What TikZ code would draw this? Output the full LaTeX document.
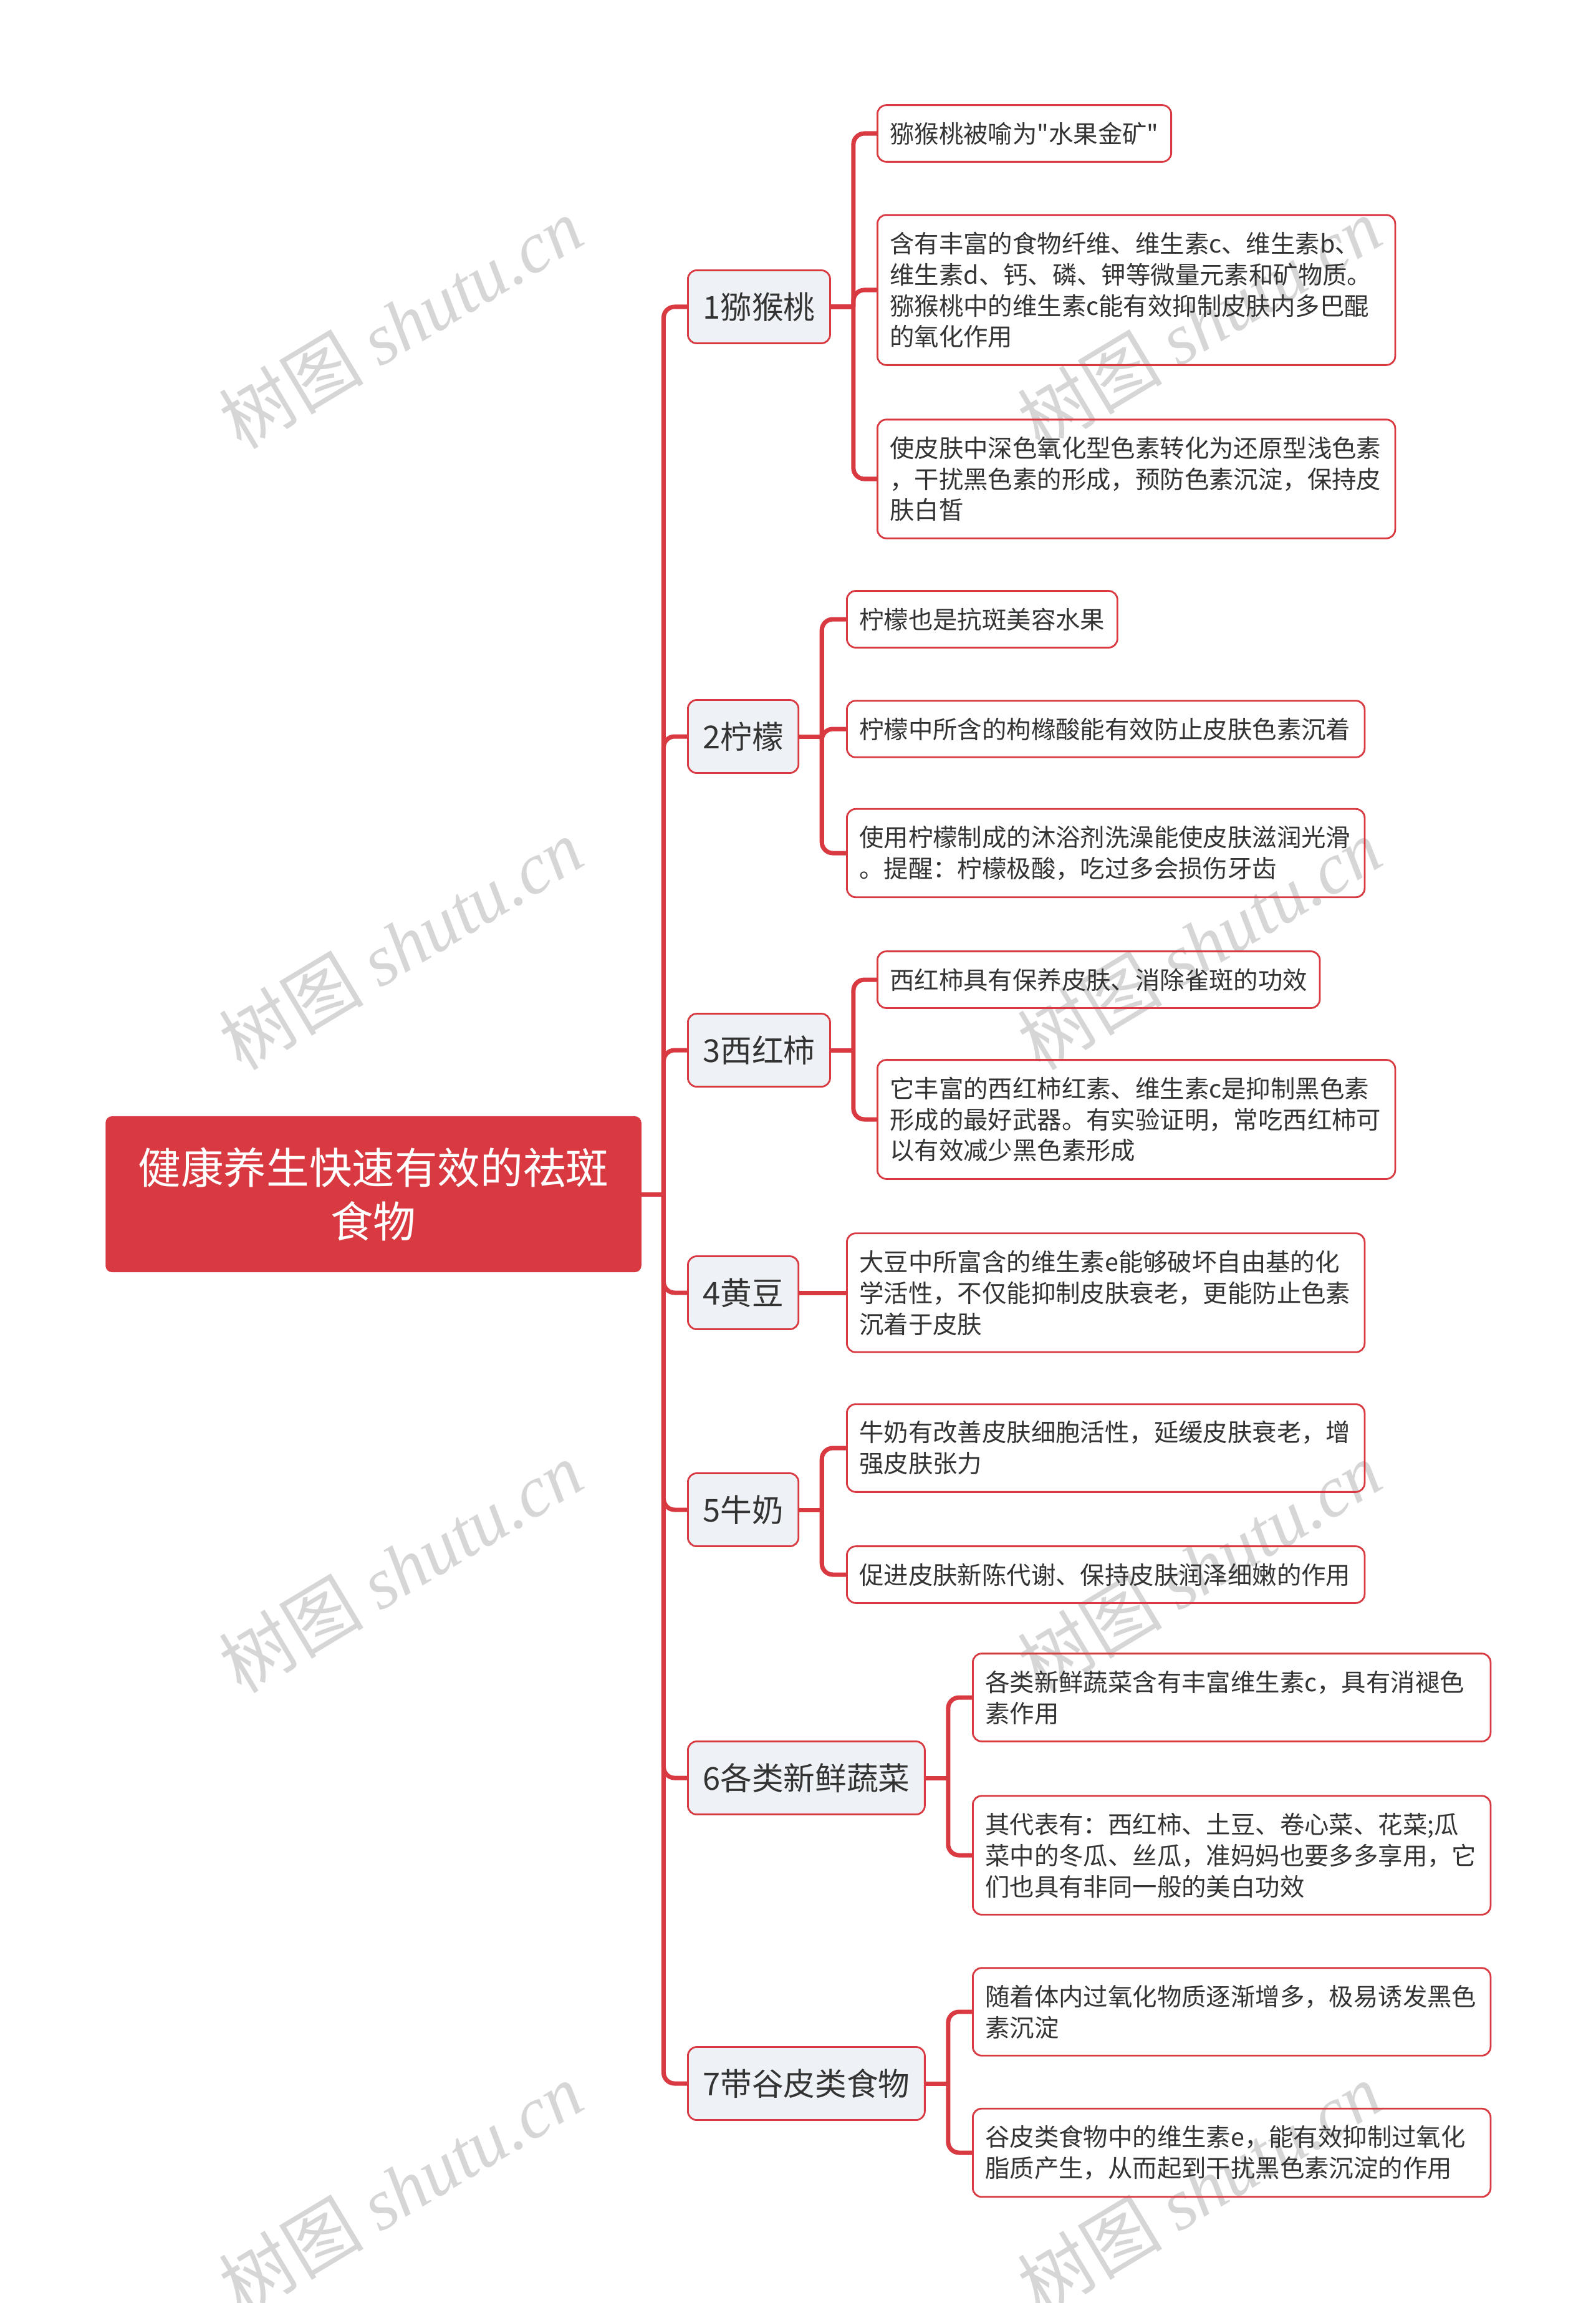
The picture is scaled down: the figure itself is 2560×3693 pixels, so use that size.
\documentclass[tikz,border=0pt]{standalone}
\usepackage{fontspec}
\setmainfont{Noto Sans CJK SC}[Ligatures=TeXOff]
\newfontfamily\wmlatin{Liberation Serif}
\usetikzlibrary{positioning}
\definecolor{mapred}{HTML}{D93A41}
\definecolor{topicfill}{HTML}{EEF1F5}
\definecolor{inkdark}{HTML}{333333}
\tikzset{
  rootbox/.style={rectangle, rounded corners=3pt, fill=mapred, text=white, minimum width=8.59cm, minimum height=2.5cm, align=center, font=\fontsize{19.5}{24.7}\selectfont},
  topic/.style={rectangle, rounded corners=4pt, draw=mapred, line width=0.8pt, fill=topicfill, text=inkdark, minimum height=1.17cm, inner xsep=0.24cm, anchor=west, font=\fontsize{14.4}{17}\selectfont},
  detail/.style={rectangle, rounded corners=4pt, draw=mapred, line width=0.8pt, text=inkdark, inner xsep=0.2cm, inner ysep=0.27cm, minimum height=0.89cm, anchor=west, align=left, font=\fontsize{11.2}{14.2}\selectfont},
  wide/.style={detail, text width=7.9cm},
  link/.style={draw=mapred, line width=2pt, rounded corners=5pt},
  wmark/.style={text=black!16, rotate=31, font=\fontsize{33}{33}\selectfont},
}

\begin{document}
\begin{tikzpicture}[x=0.01cm, y=-0.01cm]
\useasboundingbox (0,0) rectangle (2560,3693);

% watermark
\foreach \x in {643,1924}{
  \foreach \y in {518,1514,2513,3509}{
    \node[wmark] (wm-\x-\y) at (\x,\y) {树图 {\wmlatin\itshape shutu.cn}};
  }
}

% root
\node[rootbox] (root) at (599,1915) {健康养生快速有效的祛斑\\食物};

% topics
\node[topic] (t1) at (1102,492)  {1猕猴桃};
\node[topic] (t2) at (1102,1181) {2柠檬};
\node[topic] (t3) at (1102,1684) {3西红柿};
\node[topic] (t4) at (1102,2073) {4黄豆};
\node[topic] (t5) at (1102,2421) {5牛奶};
\node[topic] (t6) at (1102,2851) {6各类新鲜蔬菜};
\node[topic] (t7) at (1102,3341) {7带谷皮类食物};

% details
\node[detail] (d1a) at (1406,214) {猕猴桃被喻为"水果金矿"};
\node[wide]   (d1b) at (1406,465) {含有丰富的食物纤维、维生素c、维生素b、\\维生素d、钙、磷、钾等微量元素和矿物质。\\猕猴桃中的维生素c能有效抑制皮肤内多巴醌\\的氧化作用};
\node[wide]   (d1c) at (1406,768) {使皮肤中深色氧化型色素转化为还原型浅色素\\，干扰黑色素的形成，预防色素沉淀，保持皮\\肤白皙};
\node[detail] (d2a) at (1357,993) {柠檬也是抗斑美容水果};
\node[wide]   (d2b) at (1357,1169) {柠檬中所含的枸橼酸能有效防止皮肤色素沉着};
\node[wide]   (d2c) at (1357,1368) {使用柠檬制成的沐浴剂洗澡能使皮肤滋润光滑\\。提醒：柠檬极酸，吃过多会损伤牙齿};
\node[detail] (d3a) at (1406,1571) {西红柿具有保养皮肤、消除雀斑的功效};
\node[wide]   (d3b) at (1406,1795) {它丰富的西红柿红素、维生素c是抑制黑色素\\形成的最好武器。有实验证明，常吃西红柿可\\以有效减少黑色素形成};
\node[wide]   (d4a) at (1357,2073) {大豆中所富含的维生素e能够破坏自由基的化\\学活性，不仅能抑制皮肤衰老，更能防止色素\\沉着于皮肤};
\node[wide]   (d5a) at (1357,2322) {牛奶有改善皮肤细胞活性，延缓皮肤衰老，增\\强皮肤张力};
\node[wide]   (d5b) at (1357,2525) {促进皮肤新陈代谢、保持皮肤润泽细嫩的作用};
\node[wide]   (d6a) at (1559,2722) {各类新鲜蔬菜含有丰富维生素c，具有消褪色\\素作用};
\node[wide]   (d6b) at (1559,2975) {其代表有：西红柿、土豆、卷心菜、花菜;瓜\\菜中的冬瓜、丝瓜，准妈妈也要多多享用，它\\们也具有非同一般的美白功效};
\node[wide]   (d7a) at (1559,3226) {随着体内过氧化物质逐渐增多，极易诱发黑色\\素沉淀};
\node[wide]   (d7b) at (1559,3452) {谷皮类食物中的维生素e，能有效抑制过氧化\\脂质产生，从而起到干扰黑色素沉淀的作用};

% root to topics
\path (root.east) ++(35,0) coordinate (hub);
\draw[link] (root.east) -- (hub);
\foreach \t in {t1,t2,t3,t4,t5,t6,t7}{ \draw[link] (hub) |- (\t.west); }

% topics to details
\foreach \t in {t1,t2,t3,t5,t6,t7}{
  \path (\t.east) ++(36,0) coordinate (\t-hub);
  \draw[link] (\t.east) -- (\t-hub);
}
\foreach \t/\d in {t1/d1a,t1/d1b,t1/d1c,t2/d2a,t2/d2b,t2/d2c,t3/d3a,t3/d3b,t5/d5a,t5/d5b,t6/d6a,t6/d6b,t7/d7a,t7/d7b}{
  \draw[link] (\t-hub) |- (\d.west);
}
\draw[link] (t4.east) -- (d4a.west);
\end{tikzpicture}
\end{document}
